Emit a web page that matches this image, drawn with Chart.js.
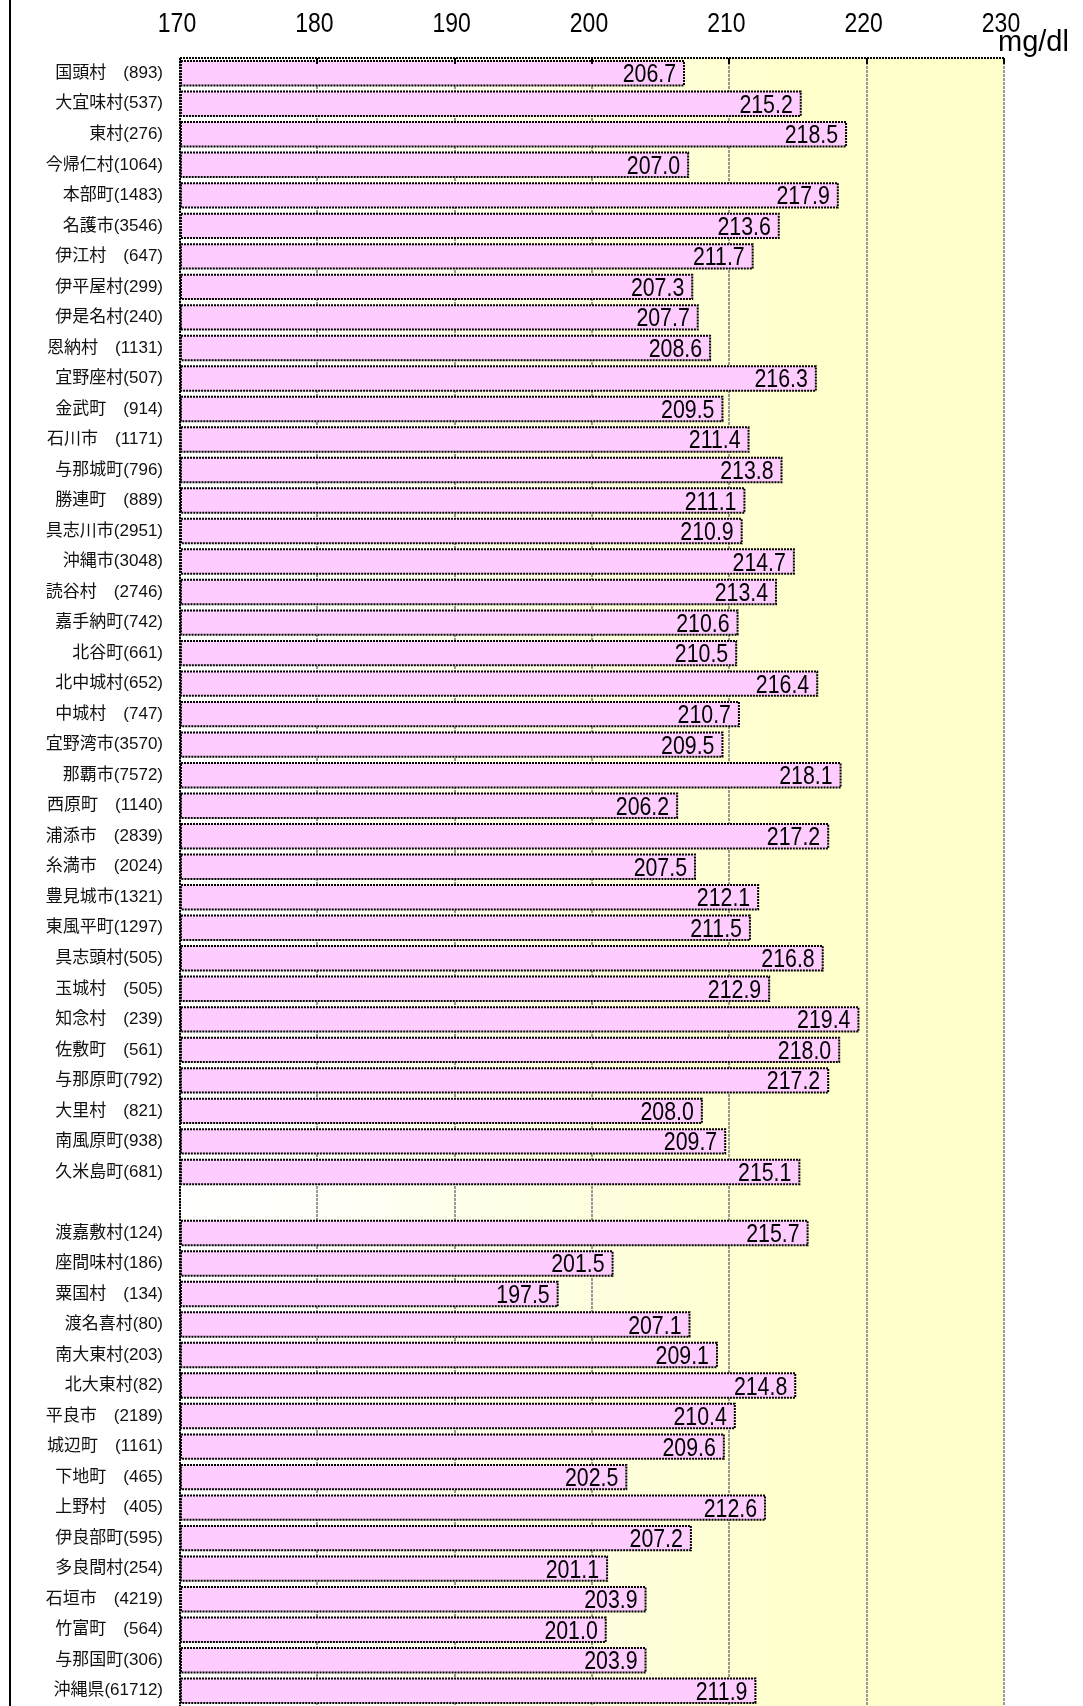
<!DOCTYPE html>
<html lang="ja">
<head>
<meta charset="utf-8">
<title>総コレステロール 平均値</title>
<script src="https://cdn.jsdelivr.net/npm/chart.js@4.4.1/dist/chart.umd.min.js"></script>
<style>
  html, body { margin: 0; padding: 0; background: #fff; overflow: hidden; }
  #wrap { position: relative; width: 1083px; height: 1706px; }
</style>
</head>
<body>
<div id="wrap"><canvas id="cholChart"></canvas></div>
<script>
// Municipios (con número de examinados) y valores medios en mg/dl
const etiquetas = [
    '国頭村　(893)', '大宜味村(537)', '東村(276)', '今帰仁村(1064)', '本部町(1483)',
    '名護市(3546)', '伊江村　(647)', '伊平屋村(299)', '伊是名村(240)', '恩納村　(1131)',
    '宜野座村(507)', '金武町　(914)', '石川市　(1171)', '与那城町(796)', '勝連町　(889)',
    '具志川市(2951)', '沖縄市(3048)', '読谷村　(2746)', '嘉手納町(742)', '北谷町(661)',
    '北中城村(652)', '中城村　(747)', '宜野湾市(3570)', '那覇市(7572)', '西原町　(1140)',
    '浦添市　(2839)', '糸満市　(2024)', '豊見城市(1321)', '東風平町(1297)', '具志頭村(505)',
    '玉城村　(505)', '知念村　(239)', '佐敷町　(561)', '与那原町(792)', '大里村　(821)',
    '南風原町(938)', '久米島町(681)', '',
    '渡嘉敷村(124)', '座間味村(186)', '粟国村　(134)', '渡名喜村(80)', '南大東村(203)',
    '北大東村(82)', '平良市　(2189)', '城辺町　(1161)', '下地町　(465)', '上野村　(405)',
    '伊良部町(595)', '多良間村(254)', '石垣市　(4219)', '竹富町　(564)', '与那国町(306)',
    '沖縄県(61712)'
];

const valores = [
    206.7, 215.2, 218.5, 207.0, 217.9,
    213.6, 211.7, 207.3, 207.7, 208.6,
    216.3, 209.5, 211.4, 213.8, 211.1,
    210.9, 214.7, 213.4, 210.6, 210.5,
    216.4, 210.7, 209.5, 218.1, 206.2,
    217.2, 207.5, 212.1, 211.5, 216.8,
    212.9, 219.4, 218.0, 217.2, 208.0,
    209.7, 215.1, null,
    215.7, 201.5, 197.5, 207.1, 209.1,
    214.8, 210.4, 209.6, 202.5, 212.6,
    207.2, 201.1, 203.9, 201.0, 203.9,
    211.9
];

const ejeMin = 170;
const ejeMax = 230;
const ejePaso = 10;
const unidad = 'mg/dl';

const fuente = '"Liberation Sans", Arial, sans-serif';
const estrechar = 0.82; // los números se dibujan algo comprimidos a lo ancho

// texto comprimido horizontalmente
function textoEstrecho(ctx, txt, x, y, align) {
    ctx.save();
    ctx.translate(x, y);
    ctx.scale(estrechar, 1);
    ctx.textAlign = align;
    ctx.fillText(txt, 0, 0);
    ctx.restore();
}

// Fondo del área: de blanco a amarillo claro
const fondoDegradado = {
    id: 'fondoDegradado',
    beforeDraw(chart) {
        const { ctx, chartArea: a } = chart;
        const g = ctx.createLinearGradient(a.left, 0, a.right, 0);
        g.addColorStop(0, '#ffffff');
        g.addColorStop(0.15, '#fffffa');
        g.addColorStop(0.75, '#ffffcc');
        g.addColorStop(1, '#ffffcc');
        ctx.save();
        ctx.fillStyle = g;
        ctx.fillRect(a.left, a.top, a.right - a.left, a.bottom - a.top);
        ctx.restore();
    }
};

// Bordes punteados de las barras, valores y marco
const barrasPunteadas = {
    id: 'barrasPunteadas',
    afterDatasetsDraw(chart) {
        const { ctx } = chart;
        const meta = chart.getDatasetMeta(0);
        ctx.save();
        ctx.strokeStyle = '#000';
        ctx.lineWidth = 2;
        ctx.setLineDash([2, 1]);
        meta.data.forEach((bar, i) => {
            if (valores[i] == null) return;
            const { x, y, base, height } = bar.getProps(['x', 'y', 'base', 'height'], true);
            ctx.strokeRect(base, y - height / 2, x - base, height);
        });
        ctx.setLineDash([]);
        ctx.fillStyle = '#000';
        ctx.font = '26px ' + fuente;
        ctx.textBaseline = 'alphabetic';
        meta.data.forEach((bar, i) => {
            if (valores[i] == null) return;
            textoEstrecho(ctx, valores[i].toFixed(1), bar.x - 8, bar.y + 9, 'right');
        });
        ctx.restore();
    },
    afterDraw(chart) {
        const { ctx, chartArea: a } = chart;
        const xs = chart.scales.x;
        ctx.save();
        // marco superior e izquierdo
        ctx.strokeStyle = '#000';
        ctx.lineWidth = 2;
        ctx.setLineDash([2, 1]);
        ctx.beginPath();
        ctx.moveTo(a.left, a.top);
        ctx.lineTo(a.right, a.top);
        ctx.moveTo(a.left, a.top);
        ctx.lineTo(a.left, a.bottom);
        ctx.stroke();
        ctx.setLineDash([]);
        ctx.fillStyle = '#000';
        // marcas cortas en el borde superior
        for (let v = ejeMin + ejePaso; v <= ejeMax; v += ejePaso) {
            const px = Math.round(xs.getPixelForValue(v));
            ctx.fillRect(px - 1, a.top, 2, 6);
        }
        // etiquetas del eje superior
        ctx.font = '28px ' + fuente;
        ctx.textBaseline = 'alphabetic';
        xs.ticks.forEach(t => {
            textoEstrecho(ctx, String(t.value), xs.getPixelForValue(t.value) - 3, 32, 'center');
        });
        // unidad junto al último valor del eje
        ctx.font = '29px ' + fuente;
        ctx.textAlign = 'left';
        ctx.fillText(unidad, a.right - 6, 51);
        // línea vertical del marco exterior
        ctx.fillRect(9, 0, 2, chart.height);
        ctx.restore();
    }
};

function renderCholesterolChart() {
    const ctx = document.getElementById('cholChart');
    if (!ctx) {
        console.error('Canvas cholChart no encontrado');
        return;
    }

    new Chart(ctx, {
        type: 'bar',
        data: {
            labels: etiquetas,
            datasets: [{
                data: valores,
                base: ejeMin,
                backgroundColor: '#ffccff',
                borderWidth: 0,
                barPercentage: 0.8,
                categoryPercentage: 1.0
            }]
        },
        options: {
            indexAxis: 'y',
            responsive: true,
            maintainAspectRatio: false,
            animation: false,
            layout: { padding: { left: 0, top: 0, bottom: 0, right: 79 } },
            plugins: {
                legend: { display: false },
                tooltip: { enabled: false }
            },
            scales: {
                x: {
                    position: 'top',
                    min: ejeMin,
                    max: ejeMax,
                    afterFit: (scale) => {
                        scale.height = 58;
                        scale.paddingLeft = 0;
                        scale.paddingRight = 0;
                    },
                    ticks: {
                        stepSize: ejePaso,
                        display: false
                    },
                    grid: {
                        color: '#999',
                        lineWidth: 2,
                        drawTicks: false
                    },
                    border: { display: false, dash: [3, 1] }
                },
                y: {
                    afterFit: (scale) => {
                        scale.width = 180;
                        scale.paddingTop = 0;
                        scale.paddingBottom = 0;
                    },
                    ticks: {
                        padding: 17,
                        color: '#111',
                        autoSkip: false,
                        font: { family: '"Liberation Sans", "Noto Sans CJK JP", sans-serif', size: 17 }
                    },
                    grid: { display: false, drawTicks: false },
                    border: { display: false }
                }
            }
        },
        plugins: [fondoDegradado, barrasPunteadas]
    });

    console.log('Gráfico de colesterol renderizado');
}

renderCholesterolChart();
</script>
</body>
</html>
